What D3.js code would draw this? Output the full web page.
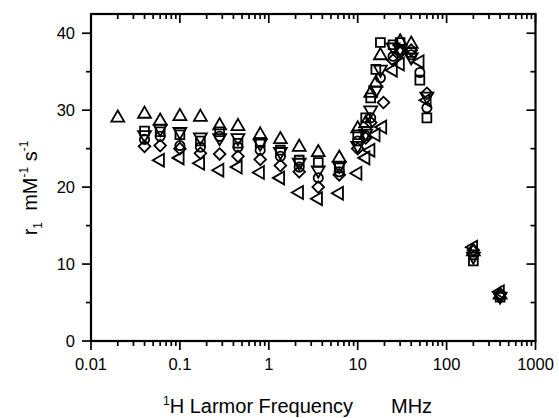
<!DOCTYPE html>
<html><head><meta charset="utf-8">
<script src="https://cdn.jsdelivr.net/npm/d3@7"></script>
<style>body{margin:0;background:#fff}text{font-family:"Liberation Sans",Arial,sans-serif}</style>
</head><body><svg id="c" width="559" height="418"></svg>
<script>
// Data: [frequency MHz, r1]
const upTri = [[0.02,29.0],[0.04,29.5],[0.06,28.6],[0.1,29.2],[0.17,29.1],[0.28,28.0],[0.45,27.9],[0.8,26.8],[1.35,26.2],[2.2,25.2],[3.6,24.5],[6.2,23.8],[10,27.6],[12.3,28.3],[14,32.2],[16,33.5],[18,37.1],[30,38.9],[40,38.6],[200,11.6],[400,6.0]];
const downTri = [[0.04,26.8],[0.06,27.6],[0.1,27.2],[0.17,26.5],[0.28,26.4],[0.45,26.4],[0.8,25.7],[1.35,24.6],[2.2,23.2],[3.6,22.2],[6.2,22.8],[10,25.4],[12.3,27.0],[14,30.0],[16,32.6],[18,35.3],[25,38.2],[30,38.0],[40,36.9],[60,31.8],[200,11.0],[400,5.8]];
const squares = [[0.04,27.3],[0.06,27.2],[0.1,26.8],[0.17,26.0],[0.28,27.2],[0.45,25.7],[0.8,25.8],[1.35,24.8],[2.2,23.5],[3.6,23.2],[6.2,22.5],[10,26.8],[12.3,29.0],[14,31.6],[16,35.3],[18,38.8],[25,38.5],[30,38.8],[40,37.5],[50,33.9],[60,29.0],[200,10.4],[400,5.7]];
const circles = [[0.04,26.2],[0.06,26.6],[0.1,25.4],[0.17,25.2],[0.28,26.6],[0.45,25.2],[0.8,24.8],[1.35,24.0],[2.2,22.6],[3.6,21.2],[6.2,22.0],[10,26.0],[12.3,26.7],[14,29.0],[18,34.2],[25,37.0],[30,37.8],[40,37.2],[50,34.9],[60,30.3],[200,11.2],[400,5.9]];
const diamonds = [[0.04,25.3],[0.06,25.4],[0.1,25.0],[0.17,24.4],[0.28,24.3],[0.45,24.0],[0.8,23.6],[1.35,22.8],[2.2,22.0],[3.6,20.0],[6.2,21.6],[10,25.0],[12.3,26.4],[14,28.4],[19.5,31.0],[25,36.5],[30,37.5],[40,37.8],[60,32.2],[200,11.8],[400,6.1]];
const leftTri = [[0.06,23.5],[0.1,23.8],[0.17,23.1],[0.28,22.2],[0.45,22.6],[0.8,21.9],[1.35,21.2],[2.2,19.3],[3.6,18.5],[6.2,19.2],[10,21.8],[12.3,23.8],[14,24.8],[16,26.8],[19,27.8],[25,35.2],[30,36.0],[50,36.3],[60,31.3],[200,12.2],[400,6.4]];
const xTicks = [0.01,0.1,1,10,100,1000];
const xTickLabels = ["0.01","0.1","1","10","100","1000"];
const yTicks = [0,10,20,30,40];

const svg = d3.select("#c");
const L=91, R=535.5, T=14, B=341;
const x = d3.scaleLog().domain([0.01,1000]).range([L,R]);
const y = d3.scaleLinear().domain([0,42.5]).range([B,T]);

// minor ticks
const minorX = [];
for (let d=-2; d<3; d++) for (let k=2;k<10;k++) minorX.push(k*Math.pow(10,d));
const minorY = [5,15,25,35];

const g = svg.append("g").attr("stroke","#000").attr("stroke-width",1.7);
g.append("rect").attr("x",L).attr("y",T).attr("width",R-L).attr("height",B-T).attr("fill","none").attr("stroke-width",2.2);
xTicks.forEach(v=>{g.append("line").attr("x1",x(v)).attr("x2",x(v)).attr("y1",B).attr("y2",B+9);
  g.append("line").attr("x1",x(v)).attr("x2",x(v)).attr("y1",T).attr("y2",T+9);});
minorX.forEach(v=>{g.append("line").attr("x1",x(v)).attr("x2",x(v)).attr("y1",B).attr("y2",B+5);
  g.append("line").attr("x1",x(v)).attr("x2",x(v)).attr("y1",T).attr("y2",T+5);});
yTicks.forEach(v=>{g.append("line").attr("x1",L-9).attr("x2",L).attr("y1",y(v)).attr("y2",y(v));
  g.append("line").attr("x1",R-9).attr("x2",R).attr("y1",y(v)).attr("y2",y(v));});
minorY.forEach(v=>{g.append("line").attr("x1",L-5).attr("x2",L).attr("y1",y(v)).attr("y2",y(v));
  g.append("line").attr("x1",R-5).attr("x2",R).attr("y1",y(v)).attr("y2",y(v));});

// tick labels
xTicks.forEach((v,i)=>svg.append("text").attr("x",x(v)).attr("y",370).attr("text-anchor","middle").attr("font-size",16.5).text(xTickLabels[i]));
yTicks.forEach(v=>svg.append("text").attr("x",75).attr("y",y(v)+6).attr("text-anchor","end").attr("font-size",16.5).text(v));

// axis titles
const xt = svg.append("text").attr("x",163).attr("y",413).attr("font-size",20);
xt.append("tspan").attr("font-size",12).attr("dy",-8).text("1");
xt.append("tspan").attr("dy",8).text("H Larmor Frequency");
svg.append("text").attr("x",391).attr("y",413).attr("font-size",20).text("MHz");

const yt = svg.append("text").attr("transform","translate(37,188) rotate(-90)").attr("text-anchor","middle").attr("font-size",20).style("white-space","pre");
yt.append("tspan").text("r");
yt.append("tspan").attr("font-size",12).attr("dy",5).text("1");
yt.append("tspan").attr("dy",-5).text("  mM");
yt.append("tspan").attr("font-size",12).attr("dy",-9).text("-1");
yt.append("tspan").attr("dy",9).text(" s");
yt.append("tspan").attr("font-size",12).attr("dy",-9).text("-1");

// markers
const series = [
  {data:upTri, type:d3.symbolTriangle, size:72, rot:0},
  {data:downTri, type:d3.symbolTriangle, size:72, rot:180},
  {data:squares, type:d3.symbolSquare, size:78, rot:0},
  {data:circles, type:d3.symbolCircle, size:68, rot:0},
  {data:diamonds, type:d3.symbolSquare, size:68, rot:45},
  {data:leftTri, type:d3.symbolTriangle, size:72, rot:-90}
];
const mg = svg.append("g").attr("fill","none").attr("stroke","#000").attr("stroke-width",1.8);
series.forEach(s=>{
  mg.selectAll(null).data(s.data).enter().append("path")
    .attr("d", d3.symbol().type(s.type).size(s.size)())
    .attr("transform", d=>`translate(${x(d[0])},${y(d[1])}) rotate(${s.rot})`);
});
</script></body></html>
